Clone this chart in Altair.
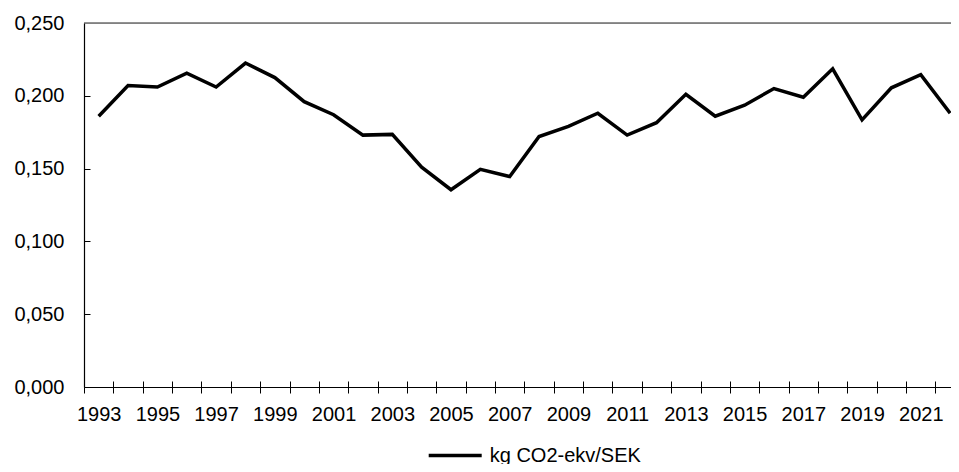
import altair as alt
import pandas as pd

years = list(range(1993, 2023))
values = [0.186, 0.207, 0.206, 0.2155, 0.206, 0.2225, 0.2125, 0.196, 0.187, 0.173,
          0.1735, 0.151, 0.1355, 0.1495, 0.1445, 0.172, 0.179, 0.188, 0.173, 0.1815,
          0.201, 0.186, 0.1935, 0.205, 0.199, 0.2185, 0.1835, 0.2055, 0.2145, 0.188]
series_name = "kg CO2-ekv/SEK"
y_ticks = [0, 0.05, 0.1, 0.15, 0.2, 0.25]

df = pd.DataFrame({"year": years, "value": values, "series": series_name})
top_df = pd.DataFrame({"top": [y_ticks[-1]]})

W, H = 867, 364
px_per_year = 29.36
x_dom = [1992.5, 1992.5 + W / px_per_year]
half = px_per_year / 2
FONT = "Liberation Sans"

xs = alt.Scale(domain=x_dom, nice=False, zero=False)
ys = alt.Scale(domain=[0, 0.25], nice=False, zero=True)

top_line = alt.Chart(top_df).mark_rule(color="#262626", strokeWidth=1.2).encode(
    y=alt.Y("top:Q", scale=ys, axis=None)
)

main = alt.Chart(df).mark_line(strokeWidth=3.5, strokeJoin="miter").encode(
    x=alt.X("year:Q", scale=xs, title=None, axis=alt.Axis(
        orient="bottom", values=years, tickOffset=-half, labelOffset=half,
        format="d", labelExpr="datum.value % 2 == 1 ? datum.label : ''",
        tickSize=6, tickColor="black", tickWidth=1, domainColor="black", domainWidth=1.2,
        labelPadding=11, labelFontSize=20, labelFont=FONT, labelColor="black",
        labelOverlap=False, labelFlush=False, labelBound=False, grid=False)),
    y=alt.Y("value:Q", scale=ys, title=None, axis=alt.Axis(
        orient="left", values=y_ticks, ticks=False, domainColor="black", domainWidth=1.2,
        labelExpr="replace(format(datum.value, '.3f'), '.', ',')",
        labelPadding=20, labelFontSize=20, labelFont=FONT, labelColor="black",
        labelBaseline="middle", grid=False)),
    color=alt.Color("series:N", scale=alt.Scale(range=["black"]), legend=alt.Legend(
        title=None, orient="none", legendX=342.7, legendY=404,
        symbolType="stroke", symbolSize=2809, symbolStrokeWidth=3.5,
        labelFontSize=20, labelFont=FONT, labelColor="black", labelOffset=6,
        padding=0)),
)

ticks_inner = alt.Chart(df).mark_line(strokeOpacity=0).encode(
    x=alt.X("year:Q", scale=xs, title=None, axis=alt.Axis(
        orient="bottom", offset=-6, values=years, tickOffset=-half,
        labels=False, domain=False, tickSize=6, tickColor="black", tickWidth=1, grid=False)),
    y=alt.Y("value:Q", scale=ys, title=None, axis=alt.Axis(
        orient="left", offset=-6, values=y_ticks[1:-1], labels=False, domain=False,
        tickSize=6, tickColor="black", tickWidth=1, grid=False)),
)

chart = alt.layer(top_line, main, ticks_inner).resolve_axis(
    x="independent", y="independent"
).properties(
    width=W, height=H,
    autosize=alt.AutoSizeParams(type="none"),
    padding={"left": 76, "top": 15, "right": 0, "bottom": 77},
).configure_view(stroke=None).configure(font=FONT)

chart.save("out.html", embed_options={"renderer": "svg", "actions": False})
